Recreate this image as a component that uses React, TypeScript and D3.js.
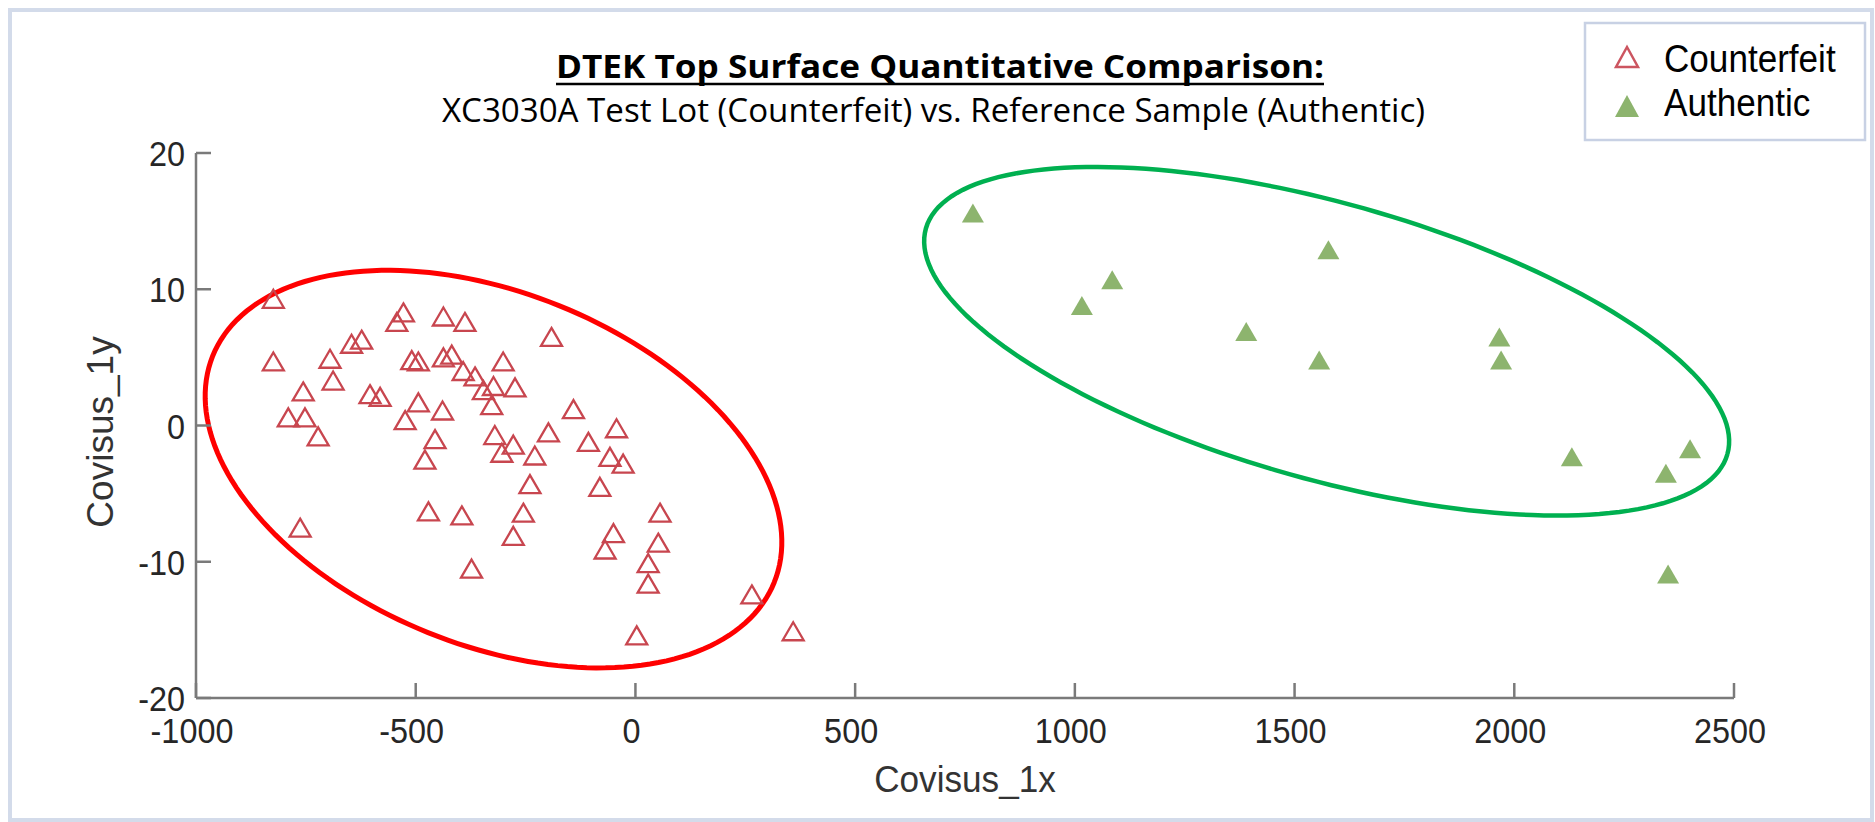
import React from "react";
import * as d3 from "d3";

const xTicks = [-1000, -500, 0, 500, 1000, 1500, 2000, 2500];
const yTicks = [-20, -10, 0, 10, 20];

const counterfeitX = [-824, -824, -756, -790, -752, -722, -763, -695, -688, -646, -623, -604, -581, -528, -543, -509, -494, -494, -524, -437, -388, -437, -418, -392, -365, -346, -323, -301, -274, -327, -439, -456, -479, -191, -141, -198, -320, -278, -304, -229, -240, -107, -81, -471, -395, -255, -278, -373, -43, -58, -28, 56, -50, -69, 52, 29, 29, 265, 3, 359];
const counterfeitY = [9.3, 4.7, 2.5, 0.6, 0.6, -0.8, -7.5, 4.9, 3.3, 6.0, 6.3, 2.3, 2.1, 8.3, 7.6, 4.8, 4.7, 1.7, 0.4, 8.0, 7.6, 5.0, 5.2, 4.0, 3.6, 2.6, 2.9, 4.7, 2.8, 1.5, 1.1, -1.0, -2.5, 6.5, 1.2, -0.5, -0.7, -1.4, -2.0, -2.2, -4.3, -1.2, -4.5, -6.3, -6.6, -6.4, -8.1, -10.5, -0.2, -2.3, -2.8, -6.4, -7.9, -9.1, -8.6, -10.1, -11.6, -12.4, -15.4, -15.1];

const authenticX = [768, 1085, 1016, 1577, 1390, 1556, 1966, 1970, 2131, 2400, 2345, 2350];
const authenticY = [15.6, 10.7, 8.8, 12.9, 6.9, 4.8, 6.5, 4.8, -2.3, -1.7, -3.5, -10.9];

// annotation ellipses in data units: center, first and second semi-axis vectors
const redEllipse = [-323, -3.2, 639, -8.3, -149, -12.0];
const greenEllipse = [1573, 6.18, 912, -8.28, -85, -9.75];

const titleText = "DTEK Top Surface Quantitative Comparison:";
const subtitleText = "XC3030A Test Lot (Counterfeit) vs. Reference Sample (Authentic)";
const legendLabels = ["Counterfeit", "Authentic"];
const xLabel = "Covisus_1x";
const yLabel = "Covisus_1y";

const W = 1875;
const H = 822;
const x = d3.scaleLinear().domain([-1000, 2500]).range([196, 1734]);
const y = d3.scaleLinear().domain([-20, 20]).range([698, 153]);

const tri = (w: number, h: number) => `M0,${-h / 2}L${w / 2},${h / 2}L${-w / 2},${h / 2}Z`;

const ellipsePath = (e: number[]) => {
  const ts = d3.range(0, 361, 2).map((d) => (d * Math.PI) / 180);
  const line = d3
    .line<number>()
    .x((t) => x(e[0] + e[2] * Math.cos(t) + e[4] * Math.sin(t)))
    .y((t) => y(e[1] + e[3] * Math.cos(t) + e[5] * Math.sin(t)))
    .curve(d3.curveLinearClosed);
  return line(ts) || "";
};

const SANS = "'Liberation Sans', Arial, sans-serif";
const TICK_COLOR = "#262626";

export default function App() {
  return (
    <svg
      width={W}
      height={H}
      style={{ position: "absolute", left: 0, top: 0, background: "#fff" }}
    >
      <rect x={0} y={0} width={W} height={H} fill="#fff" />
      <rect x={10} y={10} width={1862} height={810} fill="none" stroke="#d3dbea" strokeWidth={4} />

      {/* title */}
      <text
        x={556}
        y={78}
        fontFamily="'Open Sans', sans-serif"
        fontWeight="bold"
        fontSize={32}
        textLength={768}
        lengthAdjust="spacingAndGlyphs"
        fill="#000"
      >
        {titleText}
      </text>
      <line x1={556} x2={1324} y1={84} y2={84} stroke="#000" strokeWidth={2.5} />
      <text
        x={442}
        y={122}
        fontFamily="'Open Sans', sans-serif"
        fontSize={32}
        textLength={983}
        lengthAdjust="spacingAndGlyphs"
        fill="#000"
      >
        {subtitleText}
      </text>

      {/* ellipses */}
      <path d={ellipsePath(redEllipse)} fill="none" stroke="#ff0000" strokeWidth={5} />
      <path d={ellipsePath(greenEllipse)} fill="none" stroke="#00b050" strokeWidth={4.5} />

      {/* axes */}
      <g stroke="#7a7a7a" strokeWidth={2.5} fill="none">
        <line x1={x(-1000)} x2={x(-1000)} y1={y(20)} y2={y(-20)} />
        <line x1={x(-1000)} x2={x(2500)} y1={y(-20)} y2={y(-20)} />
        {yTicks.map((t) => (
          <line key={"yt" + t} x1={x(-1000)} x2={x(-1000) + 15} y1={y(t)} y2={y(t)} />
        ))}
        {xTicks.map((t) => (
          <line key={"xt" + t} x1={x(t)} x2={x(t)} y1={y(-20)} y2={y(-20) - 15} />
        ))}
      </g>
      <g fontFamily={SANS} fontSize={36} fill={TICK_COLOR}>
        {yTicks.map((t) => (
          <text
            key={"yl" + t}
            transform={`translate(${x(-1000) - 11},${y(t) + 13}) scale(0.9,1)`}
            textAnchor="end"
          >
            {t}
          </text>
        ))}
        {xTicks.map((t) => (
          <text
            key={"xl" + t}
            transform={`translate(${x(t) - 4},${y(-20) + 45}) scale(0.9,1)`}
            textAnchor="middle"
          >
            {t}
          </text>
        ))}
      </g>
      <text
        transform={`translate(${(x(-1000) + x(2500)) / 2},792) scale(0.95,1)`}
        textAnchor="middle"
        fontFamily={SANS}
        fontSize={37}
        fill="#333"
      >
        {xLabel}
      </text>
      <text
        transform={`translate(113,432) rotate(-90)`}
        textAnchor="middle"
        fontFamily={SANS}
        fontSize={37}
        fill="#333"
      >
        {yLabel}
      </text>

      {/* points */}
      <g>
        {counterfeitX.map((vx, i) => (
          <path
            key={"c" + i}
            d={tri(21, 18)}
            transform={`translate(${x(vx)},${y(counterfeitY[i])})`}
            fill="none"
            stroke="#c8464f"
            strokeWidth={2.3}
          />
        ))}
        {authenticX.map((vx, i) => (
          <path
            key={"a" + i}
            d={tri(22, 19)}
            transform={`translate(${x(vx)},${y(authenticY[i])})`}
            fill="#8db46e"
          />
        ))}
      </g>

      {/* legend */}
      <rect x={1585} y={23} width={280} height={117} fill="#fff" stroke="#c8d1e4" strokeWidth={2.5} />
      <path d={tri(22, 20)} transform="translate(1627,57)" fill="none" stroke="#cc5560" strokeWidth={2.5} />
      <path d={tri(24, 22)} transform="translate(1627,106)" fill="#8db46e" />
      {legendLabels.map((l, i) => (
        <text
          key={l}
          transform={`translate(1664,${72 + i * 44}) scale(0.9,1)`}
          fontFamily={SANS}
          fontSize={39}
          fill="#000"
        >
          {l}
        </text>
      ))}
    </svg>
  );
}
